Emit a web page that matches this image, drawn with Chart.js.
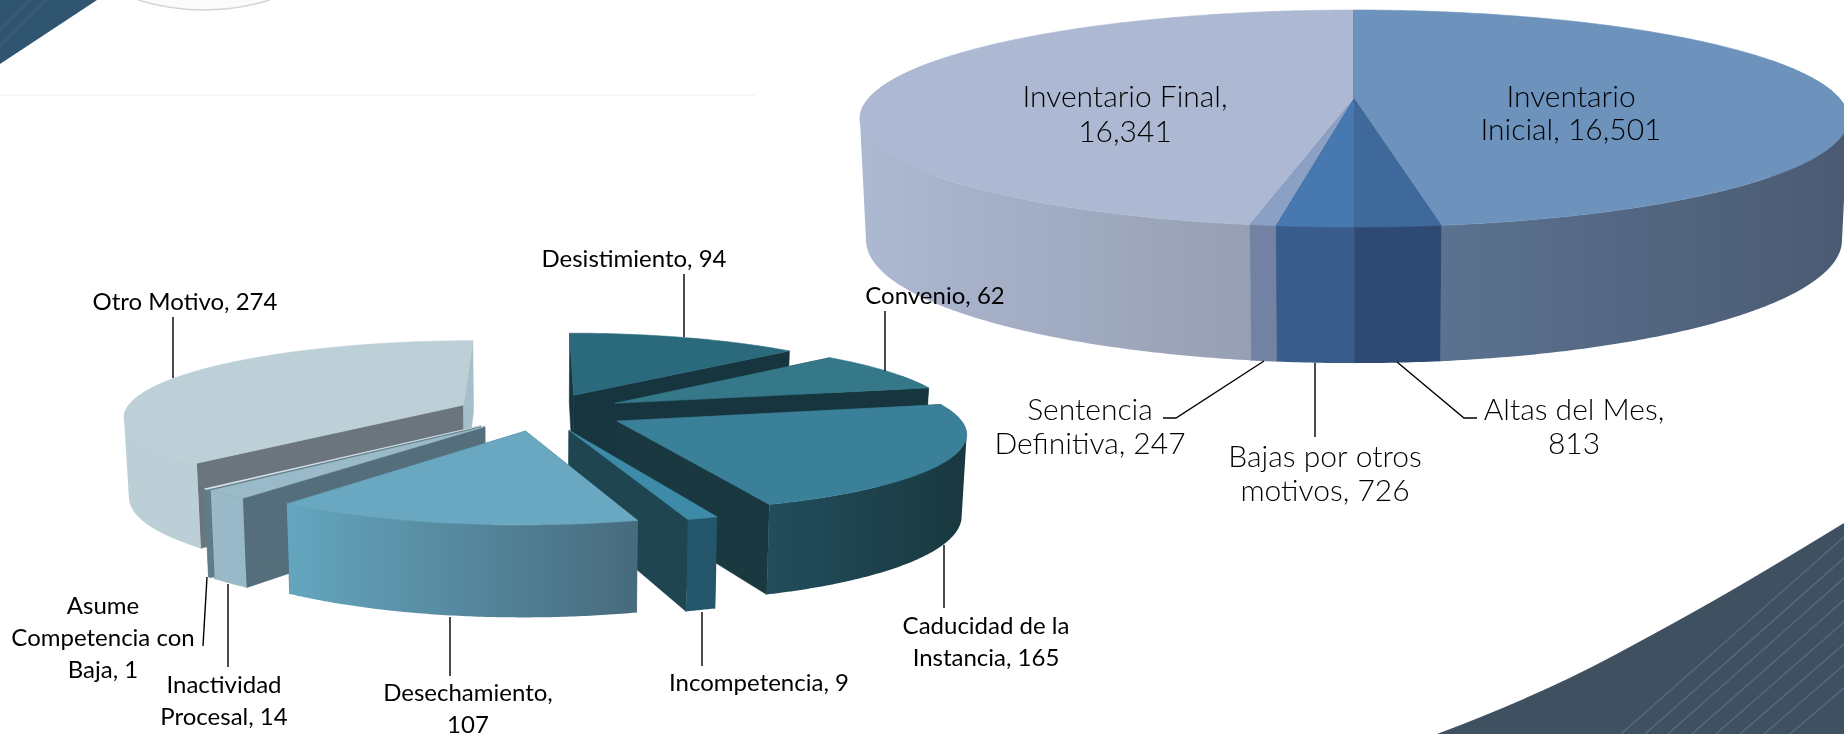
<!DOCTYPE html>
<html lang="es">
<head>
<meta charset="utf-8">
<title>Inventario y bajas</title>
<script src="https://cdn.jsdelivr.net/npm/chart.js@4/dist/chart.umd.min.js"></script>
<style>
  html, body { margin: 0; padding: 0; background: #fff; overflow: hidden; }
  #stage { position: relative; width: 1844px; height: 734px; overflow: hidden; }
  #stage svg, #stage canvas { position: absolute; left: 0; top: 0; }
</style>
</head>
<body>
<div id="stage">
  <svg width="1844" height="734">
    <line x1="0" y1="95" x2="755" y2="95" stroke="#f7f7f7" stroke-width="2"/>
    <path d="M138 0 Q204 20 270 0" fill="#fbfbfb" stroke="#d4d4d0" stroke-width="1.5"/>
    <polygon points="0,0 97,0 0,64" fill="#2f5570"/>
    <g stroke="#4d7189" stroke-width="1" opacity=".7">
      <line x1="0" y1="30" x2="30" y2="0"/><line x1="0" y1="46" x2="46" y2="0"/>
    </g>
    <path d="M1437 734 Q1540 695 1611 657 T1727 593 T1844 523 V734 Z" fill="#3f5060"/>
    <g stroke="#546f85" stroke-width="1.2">
      <line x1="1621" y1="734" x2="1844" y2="537"/><line x1="1645" y1="734" x2="1844" y2="558"/>
      <line x1="1668" y1="734" x2="1844" y2="578"/><line x1="1692" y1="734" x2="1844" y2="600"/>
      <line x1="1716" y1="734" x2="1844" y2="622"/><line x1="1740" y1="734" x2="1844" y2="644"/>
      <line x1="1764" y1="734" x2="1844" y2="665"/><line x1="1790" y1="734" x2="1844" y2="688"/>
    </g>
  </svg>
  <canvas id="inventarioChart" width="1844" height="734"></canvas>
  <canvas id="bajasChart" width="1844" height="734"></canvas>
</div>

<script>
// inventario del mes (pie grande)
const inventarioLabels = ['Inventario Inicial', 'Altas del Mes', 'Bajas por otros motivos', 'Sentencia Definitiva', 'Inventario Final'];
const inventarioValues = [16501, 813, 726, 247, 16341];

// desglose de las bajas por otros motivos (pie chico)
const bajasLabels = ['Desistimiento', 'Convenio', 'Caducidad de la Instancia', 'Incompetencia', 'Desechamiento', 'Inactividad Procesal', 'Asume Competencia con Baja', 'Otro Motivo'];
const bajasValues = [94, 62, 165, 9, 107, 14, 1, 274];

// cuantas palabras van en cada renglon de la etiqueta
const inventarioWords = [[1, 2], [3, 1], [3, 2], [1, 2], [2, 1]];
const bajasWords = [[2], [2], [3, 2], [2], [1, 1], [1, 2], [1, 2, 2], [3]];

// vista en perspectiva: k es la fuga, top/bottom son las dos tapas del cilindro
const inventarioView = {
  cx: 1354, k: 0.18, explode: 0,
  top: { y: 99, a: 486, b: 105 },
  bottom: { y: 218, a: 480, b: 119 },
  topColors: ['#6d93bd', '#40699b', '#4878b0', '#8aa0c4', '#adb9d2'],
  wallColors: [['#5b7290', '#4b5a72'], ['#2e4a72', '#2e4a72'], ['#3a5c8a', '#3a5c8a'], ['#7381a3', '#7381a3'], ['#adb9d2', '#969fb3']],
  sideColors: ['#4b5a72', '#2e4a72', '#3a5c8a', '#7381a3', '#969fb3']
};
const bajasView = {
  cx: 541, k: 0.138, explode: 0.25,
  top: { y: 412, a: 339, b: 75 },
  bottom: { y: 491, a: 335, b: 84 },
  topColors: ['#2a6a7c', '#347889', '#3b8099', '#3d8ba8', '#69a8c0', '#9abac9', '#dfe7ea', '#bdd0d8'],
  wallColors: [['#17353f', '#17353f'], ['#17353f', '#17353f'], ['#224d5c', '#19383f'], ['#24566b', '#24566b'], ['#64a6bf', '#476a7d'], ['#9abac9', '#98b8c7'], ['#5f7c8a', '#5f7c8a'], ['#bccfd7', '#bccfd7']],
  sideColors: ['#17353f', '#17353f', '#19383f', '#1f4550', '#476a7d', '#546e7b', '#5f7c8a', '#6b757d'],
  endColors: { 7: '#a7bfc8' }
};

// posicion de las etiquetas y sus lineas guia
const inventarioNotes = [
  { x: 1571, y: 97, gap: 33 },
  { x: 1574, y: 410, gap: 34, line: [[1397, 362], [1464, 418], [1477, 418]] },
  { x: 1325, y: 457, gap: 34, line: [[1315, 363], [1315, 437]] },
  { x: 1090, y: 410, gap: 34, line: [[1264, 361], [1176, 418], [1163, 418]] },
  { x: 1125, y: 97, gap: 35 }
];
const bajasNotes = [
  { x: 634, y: 259, line: [[684, 274], [684, 337]] },
  { x: 935, y: 296, line: [[885, 311], [885, 371]] },
  { x: 986, y: 626, gap: 32, line: [[944, 545], [944, 608]] },
  { x: 759, y: 683, line: [[702, 612], [702, 666]] },
  { x: 468, y: 693, gap: 32, line: [[450, 617], [450, 676]] },
  { x: 224, y: 685, gap: 32, line: [[228, 584], [228, 667]] },
  { x: 103, y: 606, gap: 32, line: [[207, 577], [203, 646]] },
  { x: 185, y: 302, line: [[173, 317], [173, 378]] }
];

const project = (view, plane, u, v) => {
  const w = 1 - view.k * v;
  return [view.cx + plane.a * u / w, plane.y + plane.b * v / w];
};

const tracePath = (ctx, points) => {
  points.forEach((p, i) => i ? ctx.lineTo(p[0], p[1]) : ctx.moveTo(p[0], p[1]));
  ctx.closePath();
};

const fillPath = (ctx, points, color) => {
  ctx.beginPath();
  tracePath(ctx, points);
  ctx.fillStyle = color;
  ctx.strokeStyle = color;
  ctx.lineWidth = 0.6;
  ctx.fill();
  ctx.stroke();
};

// area con signo, para que todos los tramos giren igual y no se cancelen al rellenar
const signedArea = pts => pts.reduce((sum, p, i) => {
  const q = pts[(i + 1) % pts.length];
  return sum + p[0] * q[1] - q[0] * p[1];
}, 0);

// dibuja cada rebanada en 3D usando los angulos que calcula Chart.js
const pie3d = (view, notes, words, font) => ({
  id: 'pie3d',
  beforeDatasetDraw(chart, args) {
    const ctx = chart.ctx;
    const arcs = args.meta.data;
    const order = arcs.map((a, i) => i).sort((i, j) => {
      const mid = a => (a.startAngle + a.endAngle) / 2;
      return Math.sin(mid(arcs[i])) - Math.sin(mid(arcs[j]));
    });

    order.forEach(i => {
      const arc = arcs[i];
      const mid = (arc.startAngle + arc.endAngle) / 2;
      const u0 = view.explode * Math.cos(mid);
      const v0 = view.explode * Math.sin(mid);
      const rim = [];
      const steps = Math.max(2, Math.ceil((arc.endAngle - arc.startAngle) / 0.01));
      for (let s = 0; s <= steps; s++) {
        const t = arc.startAngle + (arc.endAngle - arc.startAngle) * s / steps;
        rim.push([u0 + Math.cos(t), v0 + Math.sin(t)]);
      }
      const top = p => project(view, view.top, p[0], p[1]);
      const bottom = p => project(view, view.bottom, p[0], p[1]);
      const apex = [u0, v0];
      const first = rim[0];
      const last = rim[rim.length - 1];

      // paredes radiales
      fillPath(ctx, [top(apex), top(first), bottom(first), bottom(apex)], view.sideColors[i]);
      const endColor = (view.endColors && view.endColors[i]) || view.sideColors[i];
      fillPath(ctx, [top(apex), top(last), bottom(last), bottom(apex)], endColor);

      // pared exterior por tramos; la parte de atras queda tapada por la cara superior
      const front = rim.filter(p => p[1] > v0 - 0.4);
      if (front.length > 1) {
        const xs = front.map(p => top(p)[0]);
        const grad = ctx.createLinearGradient(Math.min(...xs), 0, Math.max(...xs), 0);
        grad.addColorStop(0, view.wallColors[i][0]);
        grad.addColorStop(1, view.wallColors[i][1]);
        ctx.beginPath();
        for (let s = 1; s < front.length; s++) {
          const quad = [top(front[s - 1]), top(front[s]), bottom(front[s]), bottom(front[s - 1])];
          tracePath(ctx, signedArea(quad) < 0 ? quad.reverse() : quad);
        }
        ctx.fillStyle = grad;
        ctx.fill();
      }

      // tapa superior
      fillPath(ctx, [top(apex)].concat(rim.map(top)), view.topColors[i]);
    });
    return false; // el arco plano de Chart.js no se pinta
  },
  afterDraw(chart) {
    const ctx = chart.ctx;
    const labels = chart.data.labels;
    const values = chart.data.datasets[0].data;
    ctx.save();
    ctx.fillStyle = '#000';
    ctx.strokeStyle = '#000';
    ctx.lineWidth = 1.4;
    ctx.font = font;
    ctx.textAlign = 'center';
    ctx.textBaseline = 'middle';
    labels.forEach((name, i) => {
      const note = notes[i];
      if (note.line) {
        ctx.beginPath();
        note.line.forEach((p, n) => n ? ctx.lineTo(p[0], p[1]) : ctx.moveTo(p[0], p[1]));
        ctx.stroke();
      }
      const parts = `${name}, ${values[i].toLocaleString('en-US')}`.split(' ');
      let from = 0;
      words[i].forEach((count, row) => {
        const text = parts.slice(from, from + count).join(' ');
        from += count;
        ctx.fillText(text, note.x, note.y + row * (note.gap || 0));
      });
    });
    ctx.restore();
  }
});

const makeChart = (id, labels, values, view, notes, words, font) => new Chart(document.getElementById(id), {
  type: 'pie',
  data: { labels: labels, datasets: [{ data: values, backgroundColor: view.topColors, borderWidth: 0 }] },
  options: {
    responsive: false,
    animation: false,
    events: [],
    plugins: { legend: { display: false }, tooltip: { enabled: false } }
  },
  plugins: [pie3d(view, notes, words, font)]
});

makeChart('inventarioChart', inventarioLabels, inventarioValues, inventarioView, inventarioNotes, inventarioWords, '300 30px Lato');
makeChart('bajasChart', bajasLabels, bajasValues, bajasView, bajasNotes, bajasWords, '24px Lato');
</script>
</body>
</html>
